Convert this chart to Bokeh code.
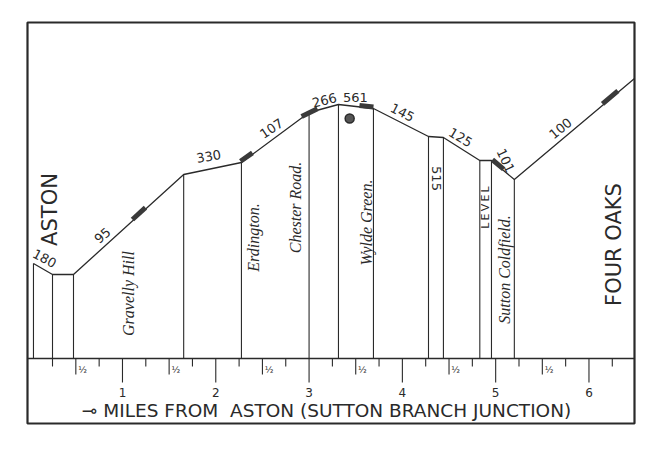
import numpy as np
from bokeh.plotting import figure
from bokeh.models import Range1d, Span
from bokeh.embed import file_html
from bokeh.resources import INLINE
from bokeh.core.properties import value

# ---- data (miles from Aston, height of formation in drawing units) ----
post_miles = [0.046, 0.25, 0.475, 1.656, 2.275, 3.0, 3.315, 3.69, 4.28, 4.44, 4.83, 4.955, 5.20, 6.488]
post_height = [95, 84, 84, 184, 196, 246, 254, 250, 222, 221, 198, 198, 179, 280]

gradients = ["180", "95", "330", "107", "266", "561", "145", "515", "125",
             "L\u2009E\u2009V\u2009E\u2009L", "101", "100"]
grad_x = [0.164, 0.786, 1.924, 2.597, 3.165, 3.497, 4.0, 4.365, 4.623, 4.892, 5.105, 5.695]
grad_y = [100, 123, 202, 230, 258, 261, 246, 180, 221, 151, 198, 230]
grad_angle_deg = [-28, 41, 10, 34, 14, 0, -27, -90, -31, 90, -65, 39]

stations = ["Gravelly Hill", "Erdington.", "Chester Road.", "Wylde Green.", "Sutton Coldfield."]
station_x = [1.065, 2.404, 2.854, 3.615, 5.094]
station_y = [65, 121, 151, 136, 89]

termini = ["ASTON", "FOUR OAKS"]
termini_x = [0.228, 6.263]
termini_y = [149, 114]

platform_start = [1.107, 2.265, 2.92, 3.54, 4.965, 6.145]
platform_end = [1.246, 2.393, 3.09, 3.69, 5.085, 6.31]

summit_x = [3.435]
summit_y = [240]

mile_ticks = [1, 2, 3, 4, 5, 6]
mile_labels = ["1", "2", "3", "4", "5", "6"]
half_ticks = [0.5, 1.5, 2.5, 3.5, 4.5, 5.5]
half_labels = ["½"] * 6
quarter_ticks = [0.25, 0.75, 1.25, 1.75, 2.25, 2.75, 3.25, 3.75, 4.25, 4.75, 5.25, 5.75, 6.25]

NB = "\u00a0"
axis_title = "⊸" + NB + "MILES" + NB + "FROM" + NB * 2 + "ASTON" + NB + "(SUTTON" + NB + "BRANCH" + NB + "JUNCTION)"

INK = "#2a2a2a"

p = figure(width=648, height=440, output_backend="svg", toolbar_location=None,
           x_range=Range1d(-0.018, 6.488), y_range=Range1d(-65, 336),
           x_axis_location=None, y_axis_location=None,
           min_border_left=27, min_border_right=14, min_border_top=22, min_border_bottom=17)
p.xgrid.visible = False
p.ygrid.visible = False
p.outline_line_color = INK
p.outline_line_width = 2.2
p.background_fill_color = "white"
p.border_fill_color = "white"

# baseline
p.add_layout(Span(location=0, dimension="width", line_color=INK, line_width=1.6))

# profile line and posts
p.line(post_miles, post_height, line_color=INK, line_width=1.3)
p.segment(x0=post_miles[:-1], y0=[0] * (len(post_miles) - 1), x1=post_miles[:-1],
          y1=post_height[:-1], line_color=INK, line_width=1.1)

# platforms (sitting on the line)
ps = np.array(platform_start)
pe = np.array(platform_end)
p.segment(x0=ps, y0=np.interp(ps, post_miles, post_height) + 1.5,
          x1=pe, y1=np.interp(pe, post_miles, post_height) + 1.5,
          line_color="#3a3a3a", line_width=5)

# summit marker
p.scatter(summit_x, summit_y, size=9, fill_color="#555555", line_color=INK, line_width=1.5)

# scale ticks
p.segment(x0=mile_ticks, y0=[0] * 6, x1=mile_ticks, y1=[-24] * 6, line_color=INK, line_width=1.1)
p.segment(x0=half_ticks, y0=[0] * 6, x1=half_ticks, y1=[-16] * 6, line_color=INK, line_width=1.1)
p.segment(x0=quarter_ticks, y0=[0] * len(quarter_ticks), x1=quarter_ticks,
          y1=[-8] * len(quarter_ticks), line_color=INK, line_width=1.1)

p.text(x=mile_ticks, y=[-34] * 6, text=mile_labels, text_align="center", text_baseline="middle",
       text_font=value("DejaVu Sans"), text_font_size="12px", text_color=INK)
p.text(x=[h + 0.025 for h in half_ticks], y=[-11] * 6, text=half_labels, text_align="left",
       text_baseline="middle", text_font=value("DejaVu Sans"), text_font_size="9px", text_color=INK)

p.text(x=[3.187], y=[-52], text=[axis_title], text_align="center", text_baseline="middle",
       text_font=value("DejaVu Sans"), text_font_size="18.5px", text_color=INK)

# gradient labels
grad_sizes = ["11px" if g.startswith("L") else "13px" for g in gradients]
p.text(x=grad_x, y=grad_y, text=gradients, angle=list(np.radians(grad_angle_deg)),
       text_align="center", text_baseline="middle", text_font=value("DejaVu Sans"),
       text_font_size=grad_sizes, text_color=INK)

# station names
p.text(x=station_x, y=station_y, text=stations, angle=np.pi / 2, text_align="center",
       text_baseline="middle", text_font=value("Liberation Serif"), text_font_style="italic",
       text_font_size="16px", text_color=INK)

# termini
p.text(x=termini_x, y=termini_y, text=termini, angle=np.pi / 2, text_align="center",
       text_baseline="middle", text_font=value("DejaVu Sans"), text_font_size="21px",
       text_color=INK)

open("out.html", "w").write(file_html(p, INLINE))
